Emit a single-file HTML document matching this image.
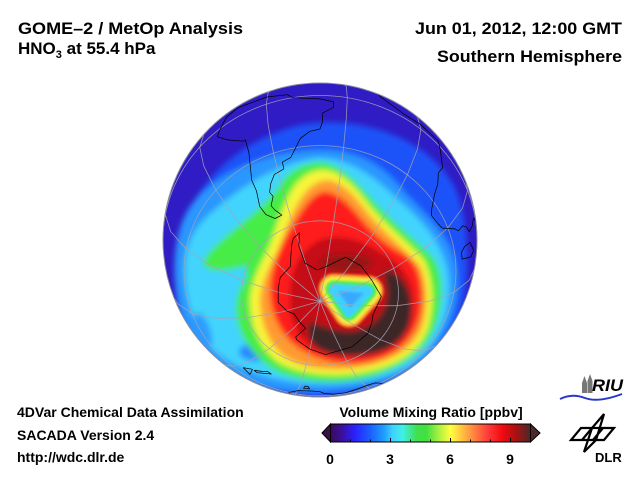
<!DOCTYPE html>
<html>
<head>
<meta charset="utf-8">
<style>
html,body{margin:0;padding:0;background:#fff;}
svg{display:block;}
text{font-family:"Liberation Sans",Arial,Helvetica,sans-serif;font-weight:bold;fill:#000;}
</style>
</head>
<body>
<svg width="640" height="480" viewBox="0 0 640 480">
<defs>
  <clipPath id="disk"><circle cx="320" cy="240" r="157"/></clipPath>
  <filter id="b3" filterUnits="userSpaceOnUse" x="130" y="50" width="380" height="380"><feGaussianBlur stdDeviation="3"/></filter>
  <filter id="b1" filterUnits="userSpaceOnUse" x="290" y="240" width="130" height="120"><feGaussianBlur stdDeviation="1.3"/></filter>
  <linearGradient id="cb" x1="0" x2="1" y1="0" y2="0">
    <stop offset="0" stop-color="#3a0a5a"/>
    <stop offset="0.06" stop-color="#3a10a0"/>
    <stop offset="0.12" stop-color="#2a20ff"/>
    <stop offset="0.2" stop-color="#1a60ff"/>
    <stop offset="0.27" stop-color="#20a0ff"/>
    <stop offset="0.31" stop-color="#40d0ff"/>
    <stop offset="0.36" stop-color="#40f0e8"/>
    <stop offset="0.43" stop-color="#40e050"/>
    <stop offset="0.48" stop-color="#40e040"/>
    <stop offset="0.54" stop-color="#a8f040"/>
    <stop offset="0.6" stop-color="#ffff40"/>
    <stop offset="0.66" stop-color="#ffc040"/>
    <stop offset="0.72" stop-color="#ff8040"/>
    <stop offset="0.79" stop-color="#ff3838"/>
    <stop offset="0.86" stop-color="#f00a10"/>
    <stop offset="0.92" stop-color="#b01010"/>
    <stop offset="1" stop-color="#4a2828"/>
  </linearGradient>
</defs>

<!-- Titles -->
<text x="18" y="34" font-size="17" textLength="225" lengthAdjust="spacingAndGlyphs">GOME–2 / MetOp Analysis</text>
<text x="18" y="54" font-size="17">HNO<tspan font-size="11" dy="4">3</tspan><tspan dy="-4"> at 55.4 hPa</tspan></text>
<text x="415" y="34" font-size="17" textLength="207" lengthAdjust="spacingAndGlyphs">Jun 01, 2012, 12:00 GMT</text>
<text x="437" y="62" font-size="17" textLength="185" lengthAdjust="spacingAndGlyphs">Southern Hemisphere</text>

<!-- Map -->
<g clip-path="url(#disk)">
  <rect x="150" y="70" width="340" height="340" fill="#2f1cc4"/>
  <g filter="url(#b3)">
    <path fill="#1e52f8" d="M188,215 C203,178 240,140 300,125 C360,114 430,138 455,188 C472,228 472,300 452,340 C428,385 372,398 320,397 C258,396 203,376 184,332 C170,296 174,246 188,215 Z"/>
    <path fill="#2c96ff" d="M195,200 C225,166 280,148 330,150 C368,153 390,173 405,193 C425,214 450,235 456,265 C461,300 451,330 431,352 C405,378 370,390 320,392 C265,393 222,380 202,356 C182,332 172,292 175,256 C177,232 183,215 195,200 Z"/>
    <path fill="#42d4fc" d="M212,212 C240,188 278,162 318,158 C356,158 382,185 402,203 C426,224 448,250 449,284 C450,318 436,348 408,366 C378,384 332,386 300,383 C262,378 228,366 210,346 C192,326 183,292 185,262 C187,240 198,224 212,212 Z"/>
    <ellipse cx="203" cy="330" rx="7" ry="18" fill="#2f9cff" transform="rotate(-20 203 330)"/>
    <ellipse cx="257" cy="352" rx="18" ry="9" fill="#2a88ff"/>
    <path fill="#46ec46" d="M203,262 C210,248 228,235 243,222 C258,210 272,198 283,180 C293,168 306,162 322,162 C342,165 357,182 373,200 C390,220 414,238 432,256 C444,272 444,300 436,325 C426,352 402,368 370,377 C340,385 305,383 280,373 C258,362 245,345 238,325 C234,308 236,295 242,285 C246,278 248,270 245,266 C238,268 225,272 212,270 C206,268 203,266 203,262 Z"/>
    <path fill="#f6f53a" d="M250,302 C250,282 262,262 270,245 C276,228 284,200 296,184 C305,174 314,170 324,170 C342,172 356,188 369,205 C386,226 408,242 424,260 C434,280 434,306 428,328 C419,352 397,366 365,372 C335,378 300,375 278,362 C262,350 251,330 250,302 Z"/>
    <path fill="#ff9a30" d="M260,302 C260,284 270,266 278,250 C285,232 293,208 304,194 C312,184 320,180 328,180 C343,182 355,196 368,213 C386,234 404,248 420,266 C428,284 428,308 422,328 C412,350 392,361 362,367 C333,372 302,369 285,357 C270,346 261,326 260,302 Z"/>
    <path fill="#fe1e1e" d="M270,292 C270,266 281,244 292,226 C302,210 310,196 322,192 C335,190 347,202 359,216 C372,233 388,246 404,254 C418,262 423,282 422,302 C421,324 410,342 394,352 C377,362 354,366 334,362 C309,357 290,345 280,328 C273,315 270,303 270,292 Z"/>
    <path fill="#c40c14" d="M290,290 C291,266 304,248 320,240 C340,233 362,240 380,252 C399,262 412,276 413,298 C414,320 403,338 386,348 C368,357 345,358 326,353 C306,347 293,330 290,310 Z"/>
    <ellipse cx="346" cy="263" rx="26" ry="9" fill="#961418"/>
    <path fill="#3e2626" d="M310,322 C322,325 338,333 354,331 C372,328 386,314 387,296 C388,285 382,276 386,270 C399,272 412,288 412,310 C412,330 400,345 381,352 C360,358 335,358 320,350 C309,343 305,330 310,322 Z"/>
  </g>
  <g filter="url(#b1)" stroke-linejoin="round">
    <path d="M334,289 L368,291 L349,312 Z" fill="#ff9a30" stroke="#ff9a30" stroke-width="31"/>
    <path d="M334,289 L368,291 L349,312 Z" fill="#f8f040" stroke="#f8f040" stroke-width="25"/>
    <path d="M334,289 L368,291 L349,312 Z" fill="#48ec48" stroke="#48ec48" stroke-width="18"/>
    <path d="M334,289 L368,291 L349,312 Z" fill="#40d0ff" stroke="#40d0ff" stroke-width="10"/>
    <path d="M338,291 L364,293 L350,308 Z" fill="#3aa8ff"/>
  </g>
  <!-- grid -->
  <g fill="none" stroke="#a4a4b4" stroke-width="0.8" stroke-opacity="0.85">
    <ellipse cx="320" cy="293.1" rx="78.5" ry="72.3"/>
    <ellipse cx="320" cy="270.7" rx="136" ry="125.1"/>
    <path d="M163,240 A157,144.5 0 0 1 477,240"/>
    <path d="M320,301.3 L327.1,262.4 L333.6,222 L339.3,182.7 L343.6,147.4 L346.3,118.4 L347.3,97.7 L346.3,86.7 L345.1,85"/>
    <path d="M320,301.3 L346.1,270.6 L370.5,237.8 L391.4,205.1 L407.4,174.8 L417.5,148.9 L420.9,129.3 L417.5,117.2 L416,115.7"/>
    <path d="M320,301.3 L358.2,286.5 L393.8,268.4 L424.3,248.4 L447.8,227.9 L462.5,208.1 L467.5,190.6 L466,182.3"/>
    <path d="M320,301.3 L360,305.7 L397.3,305.7 L429.3,301.1 L453.9,292.4 L469.3,280.1 L474.2,269.5"/>
    <path d="M320,301.3 L351.1,323.3 L380.1,339.6 L405,349.1 L424.2,351.1 L436,345.8"/>
    <path d="M320,301.3 L333.9,334.4 L346.8,361 L358,379.4 L369.9,388.9"/>
    <path d="M320,301.3 L312.9,336.1 L306.4,364.3 L300.7,384 L294.9,395"/>
    <path d="M320,301.3 L293.9,327.9 L269.5,348.5 L248.6,361.7 L232.6,366.5 L224,364.3"/>
    <path d="M320,301.3 L281.8,312 L246.2,317.8 L215.7,318.3 L192.2,313.5 L177.5,303.6 L174,297.7"/>
    <path d="M320,301.3 L280,292.8 L242.7,280.6 L210.7,265.6 L186.1,248.9 L170.7,231.6 L165.4,214.9 L165.8,210.5"/>
    <path d="M320,301.3 L288.9,275.2 L259.9,246.7 L235,217.7 L215.8,190.2 L203.8,166.1 L199.7,147.1 L204,134.3"/>
    <path d="M320,301.3 L306.1,264.1 L293.2,225.2 L282,187.3 L273.5,153.1 L268.1,124.7 L266.3,104.2 L268.1,92.9 L270.1,91.2"/>
  </g>
  <!-- coastlines -->
  <g fill="none" stroke="#000" stroke-width="0.7" stroke-linejoin="round">
    <path d="M299.4,232.7 L298.9,246.3 L305,263.1 L317.2,270.1 L326.4,266.4 L345.6,257.2 L361.1,265.9 L371.7,280.1 L381.3,296.5 L372.9,315 L371.9,322.3 L367.9,333.3 L351.9,346.9 L325.6,354.6 L310,349.2 L296.8,339.9 L295.7,337 L305.6,328.2 L299.9,322.2 L294.1,314 L286.8,310.9 L278.2,302.5 L278.2,288.7 L280.2,277.5 L290.5,266.3 L290.9,254.5 L292,243.2 L293.6,238.1 Z"/>
    <path d="M248.9,152.5 L250,163.4 L251.7,180.1 L256.5,191 L259.7,206.4 L265.9,214.6 L275,218.5 L281.9,215.1 L274.6,209.8 L271.1,205.7 L273.1,196.3 L269.6,192.3 L270.7,183.7 L274.3,174.5 L283.8,168.9 L282.4,162 L290.7,157.6 L300.4,138.3 L309.9,131.3 L320,129 L322.6,121.5 L322.7,113 L333.5,107.4 L333.6,101.9 L320,98.9 L292.7,97.7 L287.4,94.7 L266.8,97 L238.6,107.4 L226.4,117.2 L219.1,131.5 L217.4,136.7 L227.6,139.9 L243.1,141.2 L245.3,139.9 Z"/>
    <path d="M377.3,93.8 L379.2,95.6 L385.3,100.4 L403,113.4 L420.5,124.4 L438.2,141.1 L440.2,149.3 L442.6,167.7 L438.3,172.8 L437.8,184.2 L434.6,194 L431.7,209.2 L431.6,215.7 L438,223.7 L442.1,228 L449.8,228.6 L454.9,228.9 L458.5,230.8 L462.5,225.8 L466.3,226.8 L469.3,231.7 L472.3,225.9 L473.3,219 L474.4,218.2 L475.8,222.4"/>
    <path d="M461.5,252.2 L462.1,259.1 L470.9,256.9 L473.6,250.3 L470.1,242.4 L464.5,246.7 Z"/>
    <path d="M383.8,383.4 L375,382.9 L368.2,385 L355.9,389.5 L345.4,392.8 L333.8,394.2 L324.5,393.5 L320,391.7 L311.4,391 L304.9,390.8 L298.2,390.6 L289.7,392.3 L288,393.5"/>
    <path d="M309.7,388.9 L303.5,388.3 L305.1,386.1 L308.1,386.5 Z"/>
    <path d="M271.3,374 L257.2,372.7 L254.2,370.4 L262.3,371.4 L267.6,371.5 Z"/>
    <path d="M250,374.5 L243.3,367.7 L252.5,369.3 Z"/>
  </g>
</g>
<circle cx="320" cy="240" r="157" fill="none" stroke="#8c8c9c" stroke-width="1"/>

<!-- Bottom-left text -->
<text x="17" y="417" font-size="14">4DVar Chemical Data Assimilation</text>
<text x="17" y="440" font-size="14">SACADA Version 2.4</text>
<text x="17" y="462" font-size="14">http://wdc.dlr.de</text>

<!-- Colorbar -->
<text x="431" y="417" font-size="14" text-anchor="middle">Volume Mixing Ratio [ppbv]</text>
<polygon points="330.5,424 322,433 330.5,442" fill="#3a1048" stroke="#000" stroke-width="1"/>
<polygon points="530.5,424 540,433 530.5,442" fill="#4a2a2a" stroke="#000" stroke-width="1"/>
<rect x="330.5" y="424" width="200" height="18" fill="url(#cb)" stroke="#000" stroke-width="1"/>
<g stroke="#000" stroke-width="1">
  <line x1="350.5" y1="442" x2="350.5" y2="439.5"/>
  <line x1="370.5" y1="442" x2="370.5" y2="439.5"/>
  <line x1="390.5" y1="442" x2="390.5" y2="438"/>
  <line x1="410.5" y1="442" x2="410.5" y2="439.5"/>
  <line x1="430.5" y1="442" x2="430.5" y2="439.5"/>
  <line x1="450.5" y1="442" x2="450.5" y2="438"/>
  <line x1="470.5" y1="442" x2="470.5" y2="439.5"/>
  <line x1="490.5" y1="442" x2="490.5" y2="439.5"/>
  <line x1="510.5" y1="442" x2="510.5" y2="438"/>
</g>
<text x="330" y="464" font-size="14" text-anchor="middle">0</text>
<text x="390" y="464" font-size="14" text-anchor="middle">3</text>
<text x="450" y="464" font-size="14" text-anchor="middle">6</text>
<text x="510" y="464" font-size="14" text-anchor="middle">9</text>

<!-- RIU logo -->
<polygon points="582,393 582,383 584.5,376 587,383 587,393" fill="#777"/>
<polygon points="587.5,393 587.5,381 590,374 592.5,381 592.5,393" fill="#777"/>
<path d="M560,399 Q572,393 585,398 T622,394" fill="none" stroke="#2838c8" stroke-width="2"/>
<text x="592" y="391" font-size="17" font-style="italic" textLength="31" lengthAdjust="spacingAndGlyphs">RIU</text>

<!-- DLR logo -->
<g fill="none" stroke="#000" stroke-width="2.2" stroke-linejoin="miter">
  <polygon points="581,428 614,428 604,440 571,440"/>
  <line x1="592" y1="428" x2="582" y2="440"/>
  <line x1="603" y1="428" x2="593" y2="440"/>
  <path d="M604,414 L596,440 L584,452 L592,428 Z"/>
</g>
<text x="595" y="462" font-size="13">DLR</text>
</svg>
</body>
</html>
